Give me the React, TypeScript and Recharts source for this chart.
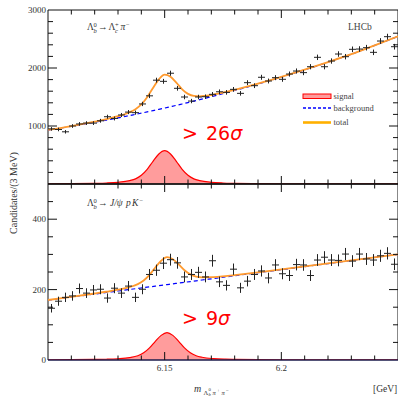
import React from "react";
import { ComposedChart, Line, Area, Scatter, XAxis, YAxis, ErrorBar, ReferenceArea, ReferenceLine } from "recharts";

const SERIF = "Liberation Serif, DejaVu Serif, serif";
const SANS = "DejaVu Sans, Liberation Sans, sans-serif";

// bin centres (3 MeV bins) in GeV
const binCenters = [
  6.1015, 6.1045, 6.1075, 6.1105, 6.1135, 6.1165, 6.1195, 6.1225, 6.1255, 6.1285,
  6.1315, 6.1345, 6.1375, 6.1405, 6.1435, 6.1465, 6.1495, 6.1525, 6.1555, 6.1585,
  6.1615, 6.1645, 6.1675, 6.1705, 6.1735, 6.1765, 6.1795, 6.1825, 6.1855, 6.1885,
  6.1915, 6.1945, 6.1975, 6.2005, 6.2035, 6.2065, 6.2095, 6.2125, 6.2155, 6.2185,
  6.2215, 6.2245, 6.2275, 6.2305, 6.2335, 6.2365, 6.2395, 6.2425, 6.2455, 6.2485,
];

const topCounts = [
  950, 940, 900, 1000, 1035, 1050, 1050, 1090, 1160, 1130,
  1190, 1240, 1230, 1380, 1520, 1790, 1770, 1910, 1650, 1500,
  1430, 1500, 1505, 1546, 1590, 1580, 1632, 1563, 1747, 1695,
  1840, 1776, 1833, 1805, 1896, 1948, 1920, 2022, 2184, 2022,
  2120, 2241, 2195, 2322, 2327, 2350, 2270, 2465, 2540, 2367,
];

const bottomCounts = [
  147, 167, 178, 182, 203, 190, 199, 201, 176, 204,
  190, 210, 178, 201, 243, 255, 275, 285, 276, 236,
  243, 249, 236, 282, 222, 212, 258, 205, 224, 243,
  253, 233, 270, 245, 240, 271, 270, 240, 284, 292,
  284, 283, 301, 281, 301, 287, 284, 296, 303, 272,
];

// fit curves
const topCurveM = [
  6.1, 6.11, 6.12, 6.125, 6.13, 6.135, 6.1375, 6.14, 6.1425, 6.145, 6.1475, 6.15, 6.1525, 6.155,
  6.1575, 6.16, 6.1625, 6.165, 6.17, 6.175, 6.18, 6.19, 6.2, 6.21, 6.22, 6.23, 6.24, 6.25,
];
const topSignal = [
  3.5, 5.8, 11.5, 17, 29, 58, 89, 150, 253, 391, 518, 575, 518, 391,
  253, 150, 89, 58, 29, 17, 11.5, 5.8, 3.5, 2.5, 1.7, 1.3, 1.0, 0.9,
];
const topBackground = [
  930, 994, 1064, 1101, 1140, 1180, 1201, 1222, 1243, 1265, 1287, 1310, 1333, 1356,
  1380, 1404, 1429, 1454, 1505, 1558, 1612, 1724, 1843, 1968, 2100, 2237, 2390, 2545,
];
const topTotal = [
  933.5, 999.8, 1075.5, 1118, 1169, 1238, 1290, 1372, 1496, 1656, 1805, 1885, 1851, 1747,
  1633, 1554, 1518, 1512, 1534, 1575, 1623.5, 1729.8, 1846.5, 1970.5, 2101.7, 2238.3, 2391, 2546,
];

const bottomCurveM = [
  6.1, 6.11, 6.12, 6.125, 6.13, 6.135, 6.1385, 6.141, 6.1435, 6.146, 6.1485, 6.151, 6.1535, 6.156,
  6.1585, 6.161, 6.1635, 6.166, 6.171, 6.176, 6.18, 6.19, 6.2, 6.21, 6.22, 6.23, 6.24, 6.25,
];
const bottomSignal = [
  0.5, 0.8, 1.6, 2.2, 3.6, 6.8, 12.1, 20.3, 34.3, 53, 70, 78, 70, 53,
  34.3, 20.3, 12.1, 7.8, 3.9, 2.3, 1.7, 0.8, 0.5, 0.35, 0.25, 0.2, 0.15, 0.12,
];
const bottomBackground = [
  170, 178.7, 187.3, 191.7, 196, 200.3, 203.4, 205.5, 207.7, 209.9, 212, 214.2, 216.4, 218.5,
  220.7, 222.9, 225, 227.2, 231.5, 235.9, 239.3, 248, 256.7, 265.3, 274, 282.7, 291.3, 300,
];
const bottomTotal = [
  170.5, 179.5, 188.9, 193.9, 199.6, 207.1, 215.5, 225.8, 242, 262.9, 282, 292.2, 286.4, 271.5,
  255, 243.2, 237.1, 235, 235.4, 238.2, 241, 248.8, 257.2, 265.7, 274.3, 282.9, 291.5, 300.1,
];

// ticks
const xTicks = [6.11, 6.12, 6.13, 6.14, 6.15, 6.16, 6.17, 6.18, 6.19, 6.2, 6.21, 6.22, 6.23, 6.24];
const xMajor = [6.15, 6.2];
const xLabels = [6.15, 6.2];
const topYTicks = [200, 400, 600, 800, 1000, 1200, 1400, 1600, 1800, 2000, 2200, 2400, 2600, 2800];
const topYMajor = [1000, 2000];
const topYLabels = [1000, 2000, 3000];
const bottomYTicks = [50, 100, 150, 200, 250, 300, 350, 400, 450];
const bottomYMajor = [200, 400];
const bottomYLabels = [0, 200, 400];

const X_MIN = 6.1;
const X_MAX = 6.25;
const HALF_BIN = 0.0015;

// layout (style): plot frame in page pixels
const PLOT_L = 48;
const PLOT_R = 398;
const TOP_T = 10;
const MID = 184;
const BOT_B = 360;
const TOP_MAX = 3000;
const BOT_MAX = 500;

const topPoints = binCenters.map((m, i) => ({ m, v: topCounts[i], e: Math.sqrt(topCounts[i]), ex: HALF_BIN }));
const bottomPoints = binCenters.map((m, i) => ({ m, v: bottomCounts[i], e: Math.sqrt(bottomCounts[i]), ex: HALF_BIN }));
const topCurve = topCurveM.map((m, i) => ({ m, s: topSignal[i], b: topBackground[i], t: topTotal[i] }));
const bottomCurve = bottomCurveM.map((m, i) => ({ m, s: bottomSignal[i], b: bottomBackground[i], t: bottomTotal[i] }));

const near = (a: number[], v: number) => a.some((t) => Math.abs(t - v) < 1e-7);
const fmtX = (v: number) => String(Math.round(v * 100) / 100);

// frame tick helpers (axis decoration in the overlay, same linear mapping as the chart axes)
const xPx = (v: number) => PLOT_L + ((v - X_MIN) / (X_MAX - X_MIN)) * (PLOT_R - PLOT_L);
const topYPx = (v: number) => MID - (v / TOP_MAX) * (MID - TOP_T);
const botYPx = (v: number) => BOT_B - (v / BOT_MAX) * (BOT_B - MID);

function makeXLabel(labels: number[] | null) {
  return (p: any) => {
    const v = p.payload.value;
    if (!labels || !near(labels, v)) return <g />;
    return (
      <text x={p.x} y={Number(p.y) + 11} textAnchor="middle" fontSize={9} fontFamily={SERIF} fill="#333">
        {fmtX(v)}
      </text>
    );
  };
}
function makeYLabel(labels: number[] | null) {
  return (p: any) => {
    const v = p.payload.value;
    if (!labels || !near(labels, v)) return <g />;
    return (
      <text x={Number(p.x) - 2} y={Number(p.y) + 3} textAnchor="end" fontSize={9} fontFamily={SERIF} fill="#333">
        {v}
      </text>
    );
  };
}

const noDot = () => <g />;

function Panel(props: {
  height: number;
  margin: any;
  points: any[];
  curve: any[];
  yDomain: [number, number];
  yTicks: number[];
  yLabels: number[];
  bottomHeight: number;
  bottomLabels: number[] | null;
  bottomStroke: string;
}) {
  const { height, margin, points, curve, yDomain, yTicks, yLabels, bottomHeight, bottomLabels, bottomStroke } = props;
  const labelTicks = [yDomain[0], ...yTicks, yDomain[1]];
  return (
    <ComposedChart width={398} height={height} margin={margin}>
      <XAxis
        dataKey="m"
        type="number"
        domain={[X_MIN, X_MAX]}
        allowDataOverflow
        ticks={xTicks}
        interval={0}
        height={bottomHeight}
        tickSize={0}
        tickMargin={0}
        tickLine={false}
        axisLine={false}
        tick={makeXLabel(bottomLabels)}
      />
      <YAxis
        type="number"
        domain={yDomain}
        allowDataOverflow
        ticks={labelTicks}
        interval={0}
        width={48}
        tickSize={0}
        tickMargin={0}
        tickLine={false}
        axisLine={false}
        tick={makeYLabel(yLabels)}
      />
      <Area
        data={curve}
        dataKey="s"
        type="monotone"
        stroke="#ff0000"
        strokeWidth={1.2}
        fill="#ff9c9c"
        fillOpacity={1}
        isAnimationActive={false}
        dot={false}
        activeDot={false}
      />
      <Line
        data={curve}
        dataKey="b"
        type="monotone"
        stroke="#0000ff"
        strokeWidth={1.2}
        strokeDasharray="4 3"
        dot={false}
        activeDot={false}
        isAnimationActive={false}
      />
      <Line
        data={curve}
        dataKey="t"
        type="monotone"
        stroke="#ff9a2e"
        strokeWidth={1.8}
        dot={false}
        activeDot={false}
        isAnimationActive={false}
      />
      <Scatter data={points} dataKey="v" shape={noDot} isAnimationActive={false}>
        <ErrorBar dataKey="e" direction="y" width={0} stroke="#222" strokeWidth={1} />
        <ErrorBar dataKey="ex" direction="x" width={0} stroke="#222" strokeWidth={1} />
      </Scatter>
      <ReferenceArea
        x1={X_MIN}
        x2={X_MAX}
        y1={yDomain[0]}
        y2={yDomain[1]}
        fill="none"
        fillOpacity={0}
        stroke="#111111"
        strokeWidth={1}
        ifOverflow="visible"
      />
      <ReferenceLine y={yDomain[0]} stroke={bottomStroke} strokeWidth={1} ifOverflow="visible" />
    </ComposedChart>
  );
}

function FrameTicks() {
  const segs: string[] = [];
  xTicks.forEach((v) => {
    const x = xPx(v);
    const len = near(xMajor, v) ? 8 : 4.5;
    segs.push(`M${x},${TOP_T}v${len}`);
    segs.push(`M${x},${MID}v${-len}`);
    segs.push(`M${x},${MID}v${len}`);
    segs.push(`M${x},${BOT_B}v${-len}`);
  });
  topYTicks.forEach((v) => {
    const y = topYPx(v);
    const len = near(topYMajor, v) ? 9 : 5;
    segs.push(`M${PLOT_L},${y}h${len}`);
    segs.push(`M${PLOT_R},${y}h${-len}`);
  });
  bottomYTicks.forEach((v) => {
    const y = botYPx(v);
    const len = near(bottomYMajor, v) ? 9 : 5;
    segs.push(`M${PLOT_L},${y}h${len}`);
    segs.push(`M${PLOT_R},${y}h${-len}`);
  });
  return <path d={segs.join("")} stroke="#111111" strokeWidth={1} fill="none" />;
}

const txt = { fontFamily: SERIF, fill: "#333" } as const;

export default function App() {
  return (
    <div style={{ position: "absolute", left: 0, top: 0, width: 398, height: 396, background: "#fff", overflow: "hidden" }}>
      <div style={{ position: "absolute", left: 0, top: 0 }}>
        <Panel
          height={186}
          margin={{ top: 10, right: 0, bottom: 2, left: 0 }}
          points={topPoints}
          curve={topCurve}
          yDomain={[0, TOP_MAX]}
          yTicks={topYTicks}
          yLabels={topYLabels}
          bottomHeight={0}
          bottomLabels={null}
          bottomStroke="#111111"
        />
      </div>
      <div style={{ position: "absolute", left: 0, top: 182 }}>
        <Panel
          height={214}
          margin={{ top: 2, right: 0, bottom: 0, left: 0 }}
          points={bottomPoints}
          curve={bottomCurve}
          yDomain={[0, BOT_MAX]}
          yTicks={bottomYTicks}
          yLabels={bottomYLabels}
          bottomHeight={36}
          bottomLabels={xLabels}
          bottomStroke="#22226a"
        />
      </div>
      <svg width={398} height={396} style={{ position: "absolute", left: 0, top: 0, pointerEvents: "none" }}>
        <FrameTicks />

        <g {...txt} fontSize={9.5}>
          <text x={87} y={30}>Λ</text>
          <text x={93.5} y={26.5} fontSize={6.5}>0</text>
          <text x={93.5} y={32.5} fontSize={6.5} fontStyle="italic">b</text>
          <text x={98} y={30}>→</text>
          <text x={108.5} y={30}>Λ</text>
          <text x={115} y={26.5} fontSize={6.5}>+</text>
          <text x={115} y={32.5} fontSize={6.5} fontStyle="italic">c</text>
          <text x={120.5} y={30} fontStyle="italic">π</text>
          <text x={126} y={26.5} fontSize={6.5}>−</text>
        </g>
        <text x={348} y={30} fontSize={9.5} fontFamily={SERIF} fill="#444">LHCb</text>

        <g {...txt} fontSize={9.5}>
          <text x={87} y={206}>Λ</text>
          <text x={93.5} y={202.5} fontSize={6.5}>0</text>
          <text x={93.5} y={208.5} fontSize={6.5} fontStyle="italic">b</text>
          <text x={98} y={206}>→</text>
          <text x={110} y={206} fontStyle="italic">J/ψ</text>
          <text x={126} y={206} fontStyle="italic">p</text>
          <text x={132} y={206} fontStyle="italic">K</text>
          <text x={139.5} y={202.5} fontSize={6.5}>−</text>
        </g>

        <rect x={303} y={94} width={28} height={4.5} fill="#ff9c9c" stroke="#ff0000" strokeWidth={1} />
        <line x1={303} x2={331} y1={108} y2={108} stroke="#0000ff" strokeWidth={1.6} strokeDasharray="3 2" />
        <line x1={303} x2={331} y1={122.5} y2={122.5} stroke="#ffb000" strokeWidth={2.6} />
        <g fontFamily={SERIF} fill="#444" fontSize={8.5}>
          <text x={333.5} y={99}>signal</text>
          <text x={333.5} y={111}>background</text>
          <text x={333.5} y={125}>total</text>
        </g>

        <g fontFamily={SANS} fill="#ff0000" fontSize={19}>
          <text x={182} y={140}>&gt;</text>
          <text x={206} y={140}>
            26<tspan fontStyle="italic">σ</tspan>
          </text>
          <text x={182} y={325}>&gt;</text>
          <text x={206} y={325}>
            9<tspan fontStyle="italic">σ</tspan>
          </text>
        </g>

        <text transform="translate(17,193) rotate(-90)" x={0} y={0} textAnchor="middle" fontSize={10} {...txt}>
          Candidates/(3 MeV)
        </text>
        <g {...txt}>
          <text x={194} y={392} fontSize={10} fontStyle="italic">m</text>
          <text x={203.5} y={394.5} fontSize={6.5}>Λ</text>
          <text x={208.5} y={391} fontSize={4.8}>0</text>
          <text x={208.5} y={396} fontSize={4.8} fontStyle="italic">b</text>
          <text x={212.5} y={394.5} fontSize={6.5} fontStyle="italic">π</text>
          <text x={217} y={391.5} fontSize={5}>+</text>
          <text x={221.5} y={394.5} fontSize={6.5} fontStyle="italic">π</text>
          <text x={226} y={391.5} fontSize={5}>−</text>
          <text x={373} y={392} fontSize={9.5}>[GeV]</text>
        </g>
      </svg>
    </div>
  );
}
